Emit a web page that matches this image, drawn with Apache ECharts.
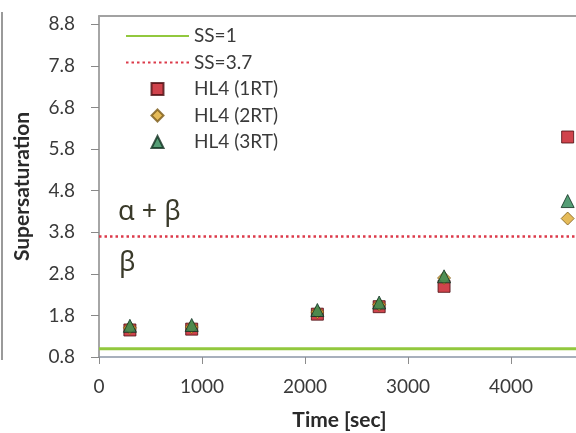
<!DOCTYPE html>
<html>
<head>
<meta charset="utf-8">
<script src="https://cdn.jsdelivr.net/npm/echarts@6/dist/echarts.min.js"></script>
<style>
  html, body { margin: 0; padding: 0; background: #ffffff; overflow: hidden; }
  /* the plot runs on past the right edge of the window */
  #chart { width: 614px; height: 433px; }
</style>
</head>
<body>
<div id="chart"></div>
<script>
// Sampling times (s) and measured supersaturation for each run
const timeSec = [300, 900, 2120, 2720, 3350, 4550];
const hl4_1RT = [1.45, 1.47, 1.83, 2.01, 2.50, 6.09];
const hl4_2RT = [1.50, 1.52, 1.88, 2.06, 2.70, 4.13];
const hl4_3RT = [1.55, 1.57, 1.93, 2.11, 2.74, 4.55];

// Reference supersaturation levels
const ssLevels = [1, 3.7];
const ssNames = ['SS=1', 'SS=3.7'];
const timeRange = [0, 5000];

// Axis ticks
const yTicks = [0.8, 1.8, 2.8, 3.8, 4.8, 5.8, 6.8, 7.8, 8.8];
const xTicks = [0, 1000, 2000, 3000, 4000];

const runNames = ['HL4 (1RT)', 'HL4 (2RT)', 'HL4 (3RT)'];
// legend glyphs, kept square inside the wide legend slot
const runIcons = [
  'path://M0,0L10,0L10,10L0,10Z',
  'path://M5,0L10,5L5,10L0,5Z',
  'path://M5,0L10,10L0,10Z'
];

const FONT = 'Lato';
const TEXT = '#3a3a3a';

const pairs = (xs, ys) => xs.map((x, i) => [x, ys[i]]);

const chart = echarts.init(document.getElementById('chart'), null, { renderer: 'canvas' });

chart.setOption({
  backgroundColor: '#ffffff',
  animation: false,
  grid: { left: 99, top: 16, right: 0, bottom: 76, containLabel: false, outerBoundsMode: 'none' },
  legend: {
    orient: 'vertical',
    left: 125,
    top: 26,
    padding: 0,
    itemWidth: 63,
    itemHeight: 12,
    itemGap: 6.5,
    symbolKeepAspect: true,
    selectedMode: false,
    textStyle: { fontFamily: FONT, fontSize: 19, color: TEXT, lineHeight: 20 },
    data: ssNames.map(n => ({ name: n, itemStyle: { opacity: 0 } }))
      .concat(runNames.map((n, i) => ({ name: n, icon: runIcons[i] })))
  },
  xAxis: [{
    type: 'value',
    min: timeRange[0],
    max: timeRange[1],
    interval: 1000,
    name: 'Time [sec]',
    nameLocation: 'middle',
    nameGap: 53,
    nameTextStyle: { fontFamily: FONT, fontSize: 21, fontWeight: 'bold', color: '#2a2a2a', padding: [0, 34, 0, 0] },
    axisLine: { show: true, lineStyle: { color: '#8c96a6', width: 1.5 } },
    axisTick: { show: true, length: 7, lineStyle: { color: '#8c8c8c' }, customValues: xTicks },
    axisLabel: { margin: 20, fontFamily: FONT, fontSize: 19, color: TEXT, customValues: xTicks, formatter: v => String(v) },
    splitLine: { show: false }
  }, {
    // frame line along the top of the plot area
    type: 'value',
    position: 'top',
    min: timeRange[0],
    max: timeRange[1],
    axisLine: { show: true, lineStyle: { color: '#a2a2a2', width: 2 } },
    axisTick: { show: false },
    axisLabel: { show: false },
    splitLine: { show: false }
  }],
  yAxis: {
    type: 'value',
    min: 0.8,
    max: 9.0,
    interval: 1,
    name: 'Supersaturation',
    nameLocation: 'middle',
    nameGap: 66,
    nameTextStyle: { fontFamily: FONT, fontSize: 21, fontWeight: 'bold', color: '#2a2a2a' },
    axisLine: { show: true, lineStyle: { color: '#888888', width: 1.5 } },
    axisTick: { show: true, length: 8, lineStyle: { color: '#888888' }, customValues: yTicks },
    axisLabel: {
      margin: 24, fontFamily: FONT, fontSize: 19, color: TEXT,
      customValues: yTicks,
      formatter: v => v.toFixed(1)
    },
    splitLine: { show: false }
  },
  series: [
    {
      name: ssNames[0],
      type: 'line',
      data: timeRange.map(t => [t, ssLevels[0]]),
      symbol: 'none',
      lineStyle: { color: '#92c83e', width: 3 },
      itemStyle: { color: '#92c83e' },
      z: 2
    },
    {
      name: ssNames[1],
      type: 'line',
      data: timeRange.map(t => [t, ssLevels[1]]),
      symbol: 'none',
      lineStyle: { color: '#dc3a4a', width: 2.5, type: [2.5, 3] },
      itemStyle: { color: '#dc3a4a' },
      z: 2
    },
    {
      name: runNames[0],
      type: 'scatter',
      data: pairs(timeSec, hl4_1RT),
      symbol: 'rect',
      symbolSize: 12,
      itemStyle: { color: '#c4141f', borderColor: '#4a0c10', borderWidth: 1 },
      z: 3
    },
    {
      name: runNames[1],
      type: 'scatter',
      data: pairs(timeSec, hl4_2RT),
      symbol: 'diamond',
      symbolSize: 13,
      itemStyle: { color: '#deaa30', borderColor: '#7a5a18', borderWidth: 1 },
      z: 4
    },
    {
      name: runNames[2],
      type: 'scatter',
      data: pairs(timeSec, hl4_3RT),
      symbol: 'triangle',
      symbolSize: 13,
      itemStyle: { color: '#2a8654', borderColor: '#10301f', borderWidth: 1 },
      z: 5
    }
  ],
  graphic: [
    {
      // edge of the neighbouring panel
      type: 'line',
      shape: { x1: 2, y1: 12, x2: 2, y2: 360 },
      style: { stroke: '#9a9a9a', lineWidth: 2 }
    },
    {
      type: 'text',
      left: 118, top: 199,
      style: { text: 'α + β', fontFamily: 'Noto Sans', fontSize: 27, fill: '#3a3a2a' }
    },
    {
      type: 'text',
      left: 119, top: 250,
      style: { text: 'β', fontFamily: 'Noto Sans', fontSize: 27, fill: '#3a3a2a' }
    }
  ]
});
</script>
</body>
</html>
